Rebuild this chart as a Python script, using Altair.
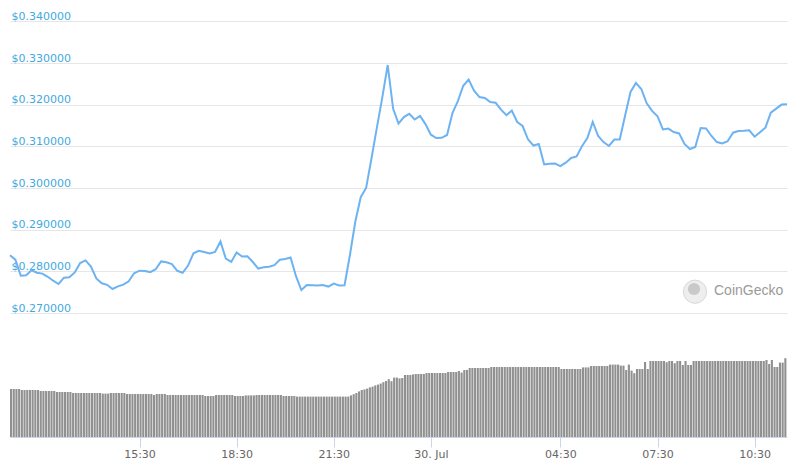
import altair as alt
import pandas as pd

# ---- data ----
START_HOUR = 11.5  # first sample (11:30)

# price, 10-minute steps
price = [
    0.28385, 0.28279, 0.27895, 0.27905, 0.28025, 0.27967, 0.27946, 0.27869, 0.27775, 0.27696,
    0.27847, 0.27859, 0.27974, 0.28200, 0.28262, 0.28116, 0.27830, 0.27713, 0.27677, 0.27576,
    0.27638, 0.27682, 0.27761, 0.27953, 0.28015, 0.28010, 0.27982, 0.28051, 0.28238, 0.28217,
    0.28174, 0.28013, 0.27965, 0.28138, 0.28433, 0.28493, 0.28464, 0.28428, 0.28464, 0.28716,
    0.28303, 0.28226, 0.28454, 0.28354, 0.28363, 0.28224, 0.28066, 0.28097, 0.28111, 0.28147,
    0.28279, 0.28296, 0.28332, 0.27883, 0.27552, 0.27670, 0.27665, 0.27662, 0.27672, 0.27634,
    0.27706, 0.27662, 0.27667, 0.28392, 0.29196, 0.29779, 0.30002, 0.30715, 0.31454, 0.32174,
    0.32952, 0.31908, 0.31546, 0.31702, 0.31781, 0.31644, 0.31728, 0.31534, 0.31279, 0.31200,
    0.31205, 0.31272, 0.31800, 0.32086, 0.32453, 0.32604, 0.32338, 0.32182, 0.32162, 0.32064,
    0.32045, 0.31879, 0.31747, 0.31858, 0.31584, 0.31488, 0.31169, 0.31020, 0.31056, 0.30564,
    0.30583, 0.30586, 0.30523, 0.30607, 0.30720, 0.30758, 0.31001, 0.31200, 0.31584, 0.31248,
    0.31102, 0.31008, 0.31164, 0.31164, 0.31738, 0.32304, 0.32520, 0.32376, 0.32033, 0.31850,
    0.31723, 0.31404, 0.31426, 0.31344, 0.31310, 0.31056, 0.30936, 0.30984, 0.31440, 0.31430,
    0.31248, 0.31102, 0.31070, 0.31123, 0.31327, 0.31368, 0.31373, 0.31385, 0.31231, 0.31339,
    0.31447, 0.31807, 0.31906, 0.32002, 0.32009,
]

# volume (arbitrary units, millions), 5-minute steps
volume = [
    24, 24, 24, 24, 23.5, 23.5, 23.5, 23.5, 23.5, 23.5, 23.5, 23,
    23, 23, 23, 23, 23, 22.5, 22.5, 22.5, 22.5, 22.5, 22.5, 22,
    22, 22, 22, 22, 22, 22, 22, 22, 22, 22, 21.7, 21.7,
    21.7, 22, 22, 22, 22, 22, 22, 21.5, 21.5, 21.5, 21.5, 21.5,
    21.5, 21.5, 21.5, 21.5, 21.5, 21, 21.5, 21.5, 21.5, 21.5, 21, 21,
    21, 21, 21, 21, 21, 21, 21, 21, 21, 21, 21, 21,
    20.5, 20.5, 20.5, 20.5, 21, 21, 21, 21, 21, 21, 21, 20.5,
    20.5, 20.5, 20.5, 20.8, 20.8, 20.8, 20.8, 21, 21, 21, 21, 21,
    21, 21, 21, 21, 21, 20.5, 20.5, 20.5, 20.5, 20.5, 20.2, 20.2,
    20.2, 20.2, 20.2, 20.2, 20.2, 20.2, 20.2, 20.2, 20.2, 20.2, 20.2, 20.2,
    20.2, 20.2, 20.2, 20.2, 20.2, 20.2, 20.8, 21.4, 22, 22.8, 23.5, 23.8,
    24.2, 24.8, 25.2, 25.8, 26.2, 26.7, 27.4, 28, 28.9, 27.9, 29.7, 29.7,
    29.3, 29.5, 31, 31, 31, 31.3, 31.5, 31.5, 31.5, 31.5, 32, 32,
    32, 32, 32, 32, 32, 32, 32.5, 32.5, 32.5, 32.5, 33, 32.2,
    33.5, 33.5, 34.5, 34.5, 34.5, 34.5, 34.5, 34.5, 34.5, 34.5, 35, 35,
    35, 35, 35, 35, 35, 35, 35, 35, 35, 35, 35, 35,
    35, 35, 35, 35, 35, 35, 35, 35, 35, 35, 35, 35,
    34, 34, 34, 34, 34, 34, 34, 34, 34.8, 34.8, 34.8, 35.5,
    35.5, 35.5, 35.5, 35.5, 35.5, 35.5, 36.2, 36.2, 36.2, 36.2, 35.7, 35.7,
    33.5, 36.2, 33.2, 31.9, 34, 34, 34, 37.5, 34, 38, 38, 38,
    38, 38, 38, 37.4, 38, 38, 36.9, 38, 38, 36, 38, 36,
    36, 38, 38, 38, 38, 38, 38, 38, 38, 38, 38, 38,
    38, 38, 38, 38, 38, 38, 38, 38, 38, 38, 38, 38,
    38, 38, 38, 38, 38.5, 36.5, 38.5, 35, 35, 37.2, 37.2, 39.4,
]

tick_hours = [15.5, 18.5, 21.5, 24.5, 28.5, 31.5, 34.5]
tick_labels = ["15:30", "18:30", "21:30", "30. Jul", "04:30", "07:30", "10:30"]
price_ticks = [0.27, 0.28, 0.29, 0.30, 0.31, 0.32, 0.33, 0.34]

# ---- tables ----
price_df = pd.DataFrame({
    "hour": [START_HOUR + i / 6 for i in range(len(price))],
    "price": price,
})
vol_df = pd.DataFrame({
    "hour": [START_HOUR + k / 12 for k in range(len(volume))],
    "hour_end": [START_HOUR + (k + 0.78) / 12 for k in range(len(volume))],
    "volume": volume,
})

label_expr = " : ".join(
    f"datum.value == {h} ? '{lab}'" for h, lab in zip(tick_hours, tick_labels)
) + " : ''"

x_scale = alt.Scale(domain=[11.5, 35.5], nice=False, zero=False)
x_axis = alt.Axis(
    values=tick_hours, labelExpr=label_expr, title=None, grid=False,
    domainColor="#ccd6eb", tickColor="#ccd6eb", tickSize=10,
    labelColor="#666666", labelFontSize=11, labelFont="DejaVu Sans",
    labelPadding=1, labelFlush=False, labelOverlap=False,
)
price_axis = alt.Axis(
    values=price_ticks, labelExpr="'$' + format(datum.value, '.6f')",
    orient="left", domain=False, ticks=False, tickSize=0,
    labelAlign="left", labelBaseline="alphabetic", labelOffset=-2,
    labelPadding=-1, labelColor="#3fa9e0", labelFontSize=11,
    labelFont="DejaVu Sans", grid=True, gridColor="#e6e6e6",
    title=None, labelFlush=False,
)

bars = alt.Chart(vol_df).mark_bar(color="#909090").encode(
    x=alt.X("hour:Q", scale=x_scale, axis=x_axis),
    x2="hour_end:Q",
    y=alt.Y("volume:Q", scale=alt.Scale(domain=[0, 214.5], nice=False), axis=None),
    y2=alt.datum(0),
)

line = alt.Chart(price_df).mark_line(color="#6db3f2", strokeWidth=2).encode(
    x=alt.X("hour:Q", scale=x_scale, axis=x_axis),
    y=alt.Y("price:Q", scale=alt.Scale(domain=[0.24024, 0.3432], nice=False, zero=False),
            axis=price_axis),
)

wm_df = pd.DataFrame({"label": ["CoinGecko"]})
logo = alt.Chart(wm_df).mark_point(
    shape="circle", filled=True, fill="#eeeeee", stroke="#d8d8d8", strokeWidth=1, size=540, opacity=1
).encode(x=alt.value(685), y=alt.value(283.7))
logo_head = alt.Chart(wm_df).mark_point(
    shape="circle", filled=True, color="#c9c9c9", size=150, opacity=1
).encode(x=alt.value(684), y=alt.value(281))
wm_text = alt.Chart(wm_df).mark_text(
    align="left", baseline="middle", font="Liberation Sans", fontSize=14, color="#9a9a9a"
).encode(x=alt.value(704), y=alt.value(283), text="label:N")

chart = alt.layer(bars, line, logo, logo_head, wm_text).resolve_scale(
    y="independent"
).properties(
    width=777, height=429,
    autosize=alt.AutoSizeParams(type="none"),
    padding={"left": 2, "top": 0, "right": 10, "bottom": 30},
).configure_view(stroke=None)

chart.save("out.html", embed_options={"renderer": "svg", "actions": False})
